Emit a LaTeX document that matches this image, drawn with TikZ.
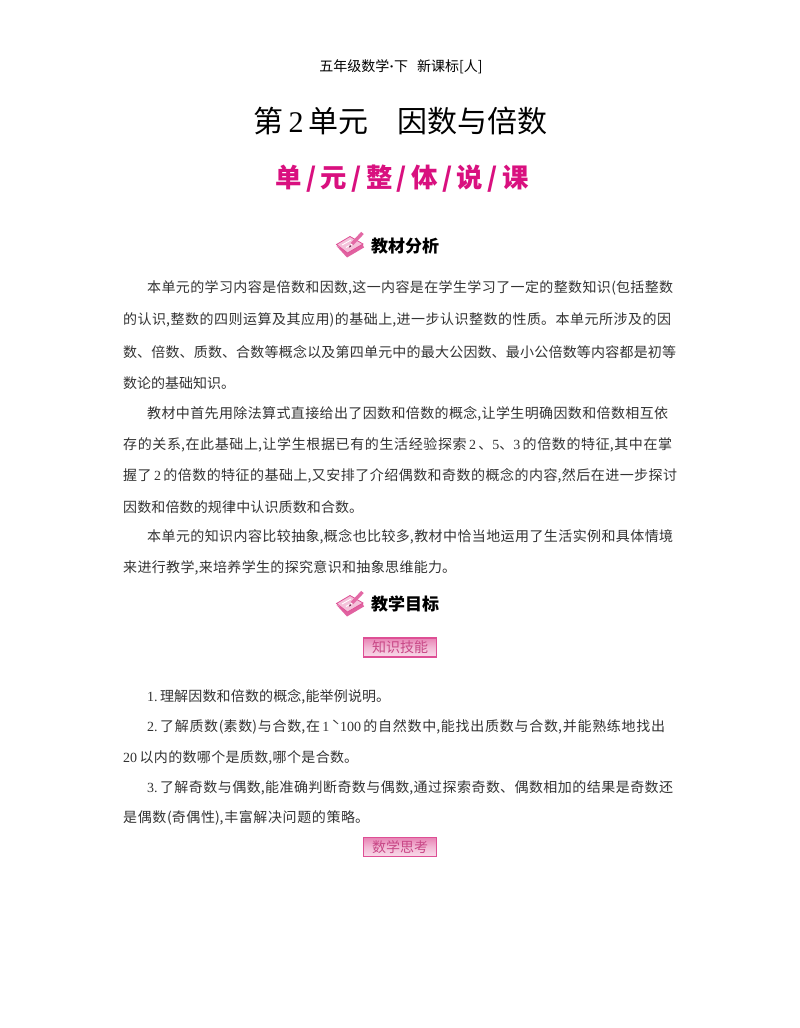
\documentclass[tikz,border=0pt]{standalone}
\usepackage{fontspec}
\usetikzlibrary{positioning}
\setmainfont{Noto Sans CJK SC}
\newfontfamily\latinserif{Liberation Serif}
\XeTeXlinebreaklocale "zh"
\XeTeXlinebreakskip=0pt plus 3pt minus 0.2pt
\definecolor{unitpink}{HTML}{D9107F}
\definecolor{badgeedge}{HTML}{DE4F95}
\newcommand{\fitline}[2]{\parbox{#1pt}{\tolerance=9999\parfillskip=0pt\noindent #2}}
\newcommand{\nm}[1]{\,{\latinserif #1}\,}
\tikzset{
  bodyline/.style = {anchor=west, inner sep=0pt, font=\fontsize{14}{16}\selectfont, text=black!80},
  heading/.style = {anchor=west, inner sep=0pt, font=\fontsize{17}{20}\selectfont\bfseries},
  badge/.style = {minimum width=73pt, minimum height=19pt, inner sep=0pt, draw=badgeedge, line width=1.2pt,
    top color=badgeedge!70, bottom color=badgeedge!20, middle color=badgeedge!40,
    text=badgeedge!90!black, font=\fontsize{14}{16}\selectfont},
  notebook/.pic = {
    \fill[badgeedge!90] (0.5,15) -- (11,26.5) -- (28,16.5) -- (26,12) -- (11,20) -- cycle;
    \fill[badgeedge!35,draw=badgeedge,line width=.8pt] (0.5,13.5) -- (14,5.5) -- (27,13) -- (11.5,22) -- cycle;
    \draw[white,line width=.9pt] (6,14) -- (15,9) (10,16.5) -- (19,11.5);
    \draw[badgeedge!85,line width=3.4pt] (16,13) -- (26.5,2);
    \fill[badgeedge!50!black] (15,15.5) -- (13,16.5) -- (14,13.5) -- cycle;
  }
}
\begin{document}
\begin{tikzpicture}[x=1pt,y=-1pt]
\useasboundingbox (0,0) rectangle (800,1028);
\fill[white] (0,0) rectangle (800,1028);
% page head
\node[inner sep=0pt,font=\fontsize{14}{16}\selectfont] (pagehead) at (401,66.5) {五年级数学{\latinserif\bfseries ·}下\hspace{9pt}新课标[人]};
\node[inner sep=0pt,font=\fontsize{30}{34}\selectfont] (unittitle) at (400.5,121) {第\,{\latinserif 2}\,单元\hspace{29pt}因数与倍数};
\node[inner sep=0pt,font=\fontsize{26.4}{30}\selectfont\bfseries,text=unitpink] (unitsub) at (402,179) {单\,/\,元\,/\,整\,/\,体\,/\,说\,/\,课};
% first section
\pic at (336,231) {notebook};
\node[heading] (headone) at (371,246) {教材分析};
\node[bodyline] (lineone) at (147,288) {\fitline{526}{本单元的学习内容是倍数和因数,这一内容是在学生学习了一定的整数知识(包括整数}};
\node[bodyline] (linetwo) at (123,320) {\fitline{548}{的认识,整数的四则运算及其应用)的基础上,进一步认识整数的性质。本单元所涉及的因}};
\node[bodyline] (linethree) at (123,352) {\fitline{553}{数、倍数、质数、合数等概念以及第四单元中的最大公因数、最小公倍数等内容都是初等}};
\node[bodyline] (linefour) at (123,383) {\fitline{112}{数论的基础知识。}};
\node[bodyline] (linefive) at (147,414) {\fitline{521}{教材中首先用除法算式直接给出了因数和倍数的概念,让学生明确因数和倍数相互依}};
\node[bodyline] (linesix) at (123,445) {\fitline{549}{存的关系,在此基础上,让学生根据已有的生活经验探索\nm{2}、{\latinserif 5}、{\latinserif 3}\,的倍数的特征,其中在掌}};
\node[bodyline] (lineseven) at (123,476) {\fitline{554}{握了\nm{2}的倍数的特征的基础上,又安排了介绍偶数和奇数的概念的内容,然后在进一步探讨}};
\node[bodyline] (lineeight) at (123,507) {\fitline{240}{因数和倍数的规律中认识质数和合数。}};
\node[bodyline] (linenine) at (147,537) {\fitline{526}{本单元的知识内容比较抽象,概念也比较多,教材中恰当地运用了生活实例和具体情境}};
\node[bodyline] (lineten) at (123,568) {\fitline{333}{来进行教学,来培养学生的探究意识和抽象思维能力。}};
% second section
\pic at (336,590) {notebook};
\node[heading] (headtwo) at (371,604) {教学目标};
\node[badge] (skillbadge) at (400,647.5) {知识技能};
\node[bodyline] (goalone) at (147,697) {\fitline{243}{{\latinserif 1.}\,理解因数和倍数的概念,能举例说明。}};
\node[bodyline] (goaltwo) at (147,727) {\fitline{518}{{\latinserif 2.}\,了解质数(素数)与合数,在\nm{1}\char"02CB{\latinserif 100}\,的自然数中,能找出质数与合数,并能熟练地找出}};
\node[bodyline] (goalthree) at (123,758) {\fitline{235}{{\latinserif 20}\,以内的数哪个是质数,哪个是合数。}};
\node[bodyline] (goalfour) at (147,788) {\fitline{526}{{\latinserif 3.}\,了解奇数与偶数,能准确判断奇数与偶数,通过探索奇数、偶数相加的结果是奇数还}};
\node[bodyline] (goalfive) at (123,818) {\fitline{246}{是偶数(奇偶性),丰富解决问题的策略。}};
\node[badge] (thinkbadge) at (400,847) {数学思考};
\end{tikzpicture}
\end{document}
